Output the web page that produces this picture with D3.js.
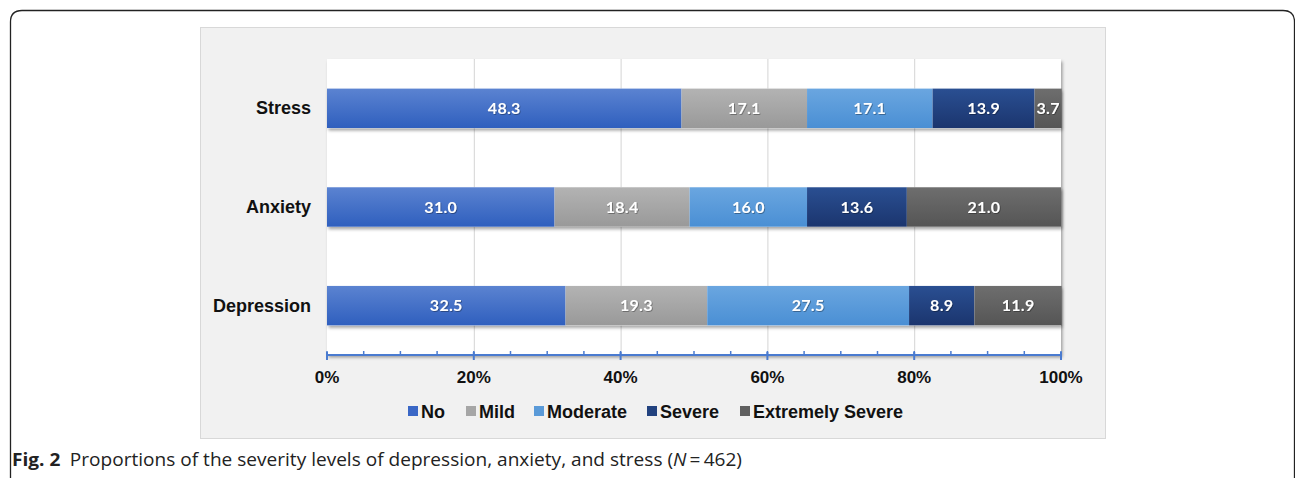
<!DOCTYPE html>
<html>
<head>
<meta charset="utf-8">
<script src="https://cdn.jsdelivr.net/npm/d3@7"></script>
<style>
  body { margin: 0; background: #fff; }
  svg { display: block; }
</style>
</head>
<body>
<svg id="chart" width="1295" height="478"></svg>
<script>
// data
var categories = ["Stress", "Anxiety", "Depression"];
var levels = ["No", "Mild", "Moderate", "Severe", "Extremely Severe"];
var noVals       = [48.3, 31.0, 32.5];
var mildVals     = [17.1, 18.4, 19.3];
var moderateVals = [17.1, 16.0, 27.5];
var severeVals   = [13.9, 13.6, 8.9];
var extremeVals  = [3.7, 21.0, 11.9];
var xTicks = [0, 20, 40, 60, 80, 100];

var colors = {
  "No": ["#5b83d1", "#2f5fbe"],
  "Mild": ["#b3b3b3", "#999999"],
  "Moderate": ["#6aa6e0", "#4a8fd4"],
  "Severe": ["#2a4f92", "#1b356e"],
  "Extremely Severe": ["#6e6e6e", "#555555"]
};
var legendColors = {"No": "#3a67c6", "Mild": "#a6a6a6", "Moderate": "#5a9ad8", "Severe": "#22427f", "Extremely Severe": "#606060"};

var svg = d3.select("#chart");
var defs = svg.append("defs");

levels.forEach(function(l, i){
  var g = defs.append("linearGradient").attr("id", "grad" + i)
    .attr("x1", 0).attr("y1", 0).attr("x2", 0).attr("y2", 1);
  g.append("stop").attr("offset", "0%").attr("stop-color", colors[l][0]);
  g.append("stop").attr("offset", "100%").attr("stop-color", colors[l][1]);
});

var shadow = defs.append("filter").attr("id", "shadow")
  .attr("x", "-5%").attr("y", "-20%").attr("width", "115%").attr("height", "160%");
shadow.append("feDropShadow").attr("dx", 1.5).attr("dy", 2.5).attr("stdDeviation", 1.5)
  .attr("flood-color", "#000").attr("flood-opacity", 0.35);

var txtShadow = defs.append("filter").attr("id", "txtshadow");
txtShadow.append("feDropShadow").attr("dx", 0.8).attr("dy", 0.8).attr("stdDeviation", 0.6)
  .attr("flood-color", "#000").attr("flood-opacity", 0.4);

// outer frame of the figure
svg.append("path")
  .attr("d", "M10.5,480 L10.5,22 Q10.5,10.5 22,10.5 L1283,10.5 Q1294.5,10.5 1294.5,22 L1294.5,480")
  .attr("fill", "none").attr("stroke", "#222").attr("stroke-width", 1.3);

// grey chart panel
svg.append("rect").attr("x", 200.5).attr("y", 27.5).attr("width", 905).attr("height", 411)
  .attr("fill", "#f1f1f1").attr("stroke", "#d8d8d8");

var plotLeft = 327, plotRight = 1061, plotTop = 59, plotBottom = 355;

// plot area with shadow on right edge
svg.append("rect").attr("x", plotLeft).attr("y", plotTop)
  .attr("width", plotRight - plotLeft).attr("height", plotBottom - plotTop)
  .attr("fill", "#fff").attr("filter", "url(#shadow)");

var x = d3.scaleLinear().domain([0, 100]).range([plotLeft, plotRight]);
var y = d3.scaleBand().domain(categories).range([plotTop, plotBottom]).paddingInner(0.6).paddingOuter(0.3);

// gridlines
svg.append("g").selectAll("line").data(xTicks.slice(1, -1)).enter().append("line")
  .attr("x1", function(d){ return x(d) + 0.5; }).attr("x2", function(d){ return x(d) + 0.5; })
  .attr("y1", plotTop).attr("y2", plotBottom)
  .attr("stroke", "#d4d4d4").attr("stroke-width", 1);

// stacked data
var table = categories.map(function(c, i){
  return {cat: c, "No": noVals[i], "Mild": mildVals[i], "Moderate": moderateVals[i],
          "Severe": severeVals[i], "Extremely Severe": extremeVals[i]};
});
var stacked = d3.stack().keys(levels)(table);

// bar shadows first, then bars
svg.append("g").selectAll("rect").data(table).enter().append("rect")
  .attr("x", x(0)).attr("y", function(d){ return y(d.cat); })
  .attr("width", x(100) - x(0)).attr("height", y.bandwidth())
  .attr("fill", "#fff").attr("filter", "url(#shadow)");

var layers = svg.append("g").selectAll("g").data(stacked).enter().append("g")
  .attr("fill", function(d, i){ return "url(#grad" + i + ")"; });

layers.selectAll("rect").data(function(d){ return d; }).enter().append("rect")
  .attr("x", function(d){ return x(d[0]); })
  .attr("y", function(d){ return y(d.data.cat); })
  .attr("width", function(d){ return x(d[1]) - x(d[0]); })
  .attr("height", y.bandwidth());

layers.selectAll("text").data(function(d){ return d; }).enter().append("text")
  .attr("x", function(d){ return (x(d[0]) + x(d[1])) / 2; })
  .attr("y", function(d){ return y(d.data.cat) + y.bandwidth() / 2 + 5.5; })
  .attr("text-anchor", "middle")
  .attr("fill", "#fff")
  .attr("filter", "url(#txtshadow)")
  .style("font-family", "Lato, 'Open Sans', sans-serif")
  .style("font-weight", "bold")
  .style("font-size", "16px")
  .style("letter-spacing", "0.3px")
  .text(function(d){ return (d[1] - d[0]).toFixed(1); });

// category labels
svg.append("g").selectAll("text").data(categories).enter().append("text")
  .attr("x", 311).attr("y", function(d){ return y(d) + y.bandwidth() / 2 + 6; })
  .attr("text-anchor", "end")
  .style("font-family", "'Liberation Sans', Arial, sans-serif")
  .style("font-weight", "bold").style("font-size", "18px").attr("fill", "#111")
  .text(function(d){ return d; });

// x axis: blue line, major ticks every 20, minor every 5
var axisG = svg.append("g");
axisG.append("line").attr("x1", plotLeft).attr("x2", plotRight).attr("y1", plotBottom).attr("y2", plotBottom)
  .attr("stroke", "#4a7bd0").attr("stroke-width", 2);
axisG.selectAll("line.minor").data(d3.range(0, 101, 5)).enter().append("line")
  .attr("class", "minor")
  .attr("x1", function(d){ return x(d); }).attr("x2", function(d){ return x(d); })
  .attr("y1", plotBottom - 4).attr("y2", plotBottom)
  .attr("stroke", "#4a7bd0").attr("stroke-width", 1.5);
axisG.selectAll("line.major").data(xTicks).enter().append("line")
  .attr("class", "major")
  .attr("x1", function(d){ return x(d); }).attr("x2", function(d){ return x(d); })
  .attr("y1", plotBottom - 3).attr("y2", plotBottom + 5)
  .attr("stroke", "#4a7bd0").attr("stroke-width", 2);
axisG.selectAll("text").data(xTicks).enter().append("text")
  .attr("x", function(d){ return x(d); }).attr("y", 383)
  .attr("text-anchor", "middle")
  .style("font-family", "'Liberation Sans', Arial, sans-serif")
  .style("font-weight", "bold").style("font-size", "17px").attr("fill", "#111")
  .text(function(d){ return d + "%"; });

// legend
var legendX = [408, 466, 534, 647, 740];
var legend = svg.append("g").selectAll("g").data(levels).enter().append("g")
  .attr("transform", function(d, i){ return "translate(" + legendX[i] + ",412)"; });
legend.append("rect").attr("x", 0).attr("y", -6).attr("width", 10).attr("height", 10)
  .attr("fill", function(d){ return legendColors[d]; });
legend.append("text").attr("x", 13).attr("y", 6)
  .style("font-family", "'Liberation Sans', Arial, sans-serif")
  .style("font-weight", "bold").style("font-size", "18px").attr("fill", "#111")
  .text(function(d){ return d; });

// caption
var cap = svg.append("text").attr("x", 12).attr("y", 466)
  .style("font-family", "'Open Sans', sans-serif").style("font-size", "18px").attr("fill", "#222")
  .attr("textLength", 730).attr("lengthAdjust", "spacingAndGlyphs");
cap.append("tspan").style("font-weight", "bold").text("Fig. 2");
cap.append("tspan").text("\u2002Proportions of the severity levels of depression, anxiety, and stress (");
cap.append("tspan").style("font-style", "italic").text("N");
cap.append("tspan").text("\u2009=\u2009462)");
</script>
</body>
</html>
